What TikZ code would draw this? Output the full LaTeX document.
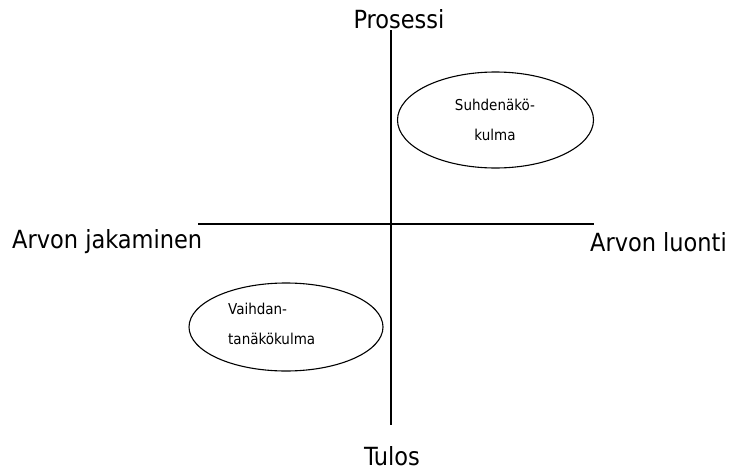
\documentclass[tikz,border=0pt]{standalone}
\usepackage{fontspec}
\setmainfont{DejaVu Sans Condensed}
\begin{document}
\begin{tikzpicture}[x=1pt,y=-1pt,
  axis/.style={line width=1.2pt},
  lbl/.style={inner sep=0pt,font=\fontsize{25}{28}\selectfont},
  small/.style={inner sep=0pt,font=\fontsize{15}{18}\selectfont,align=left}]
\useasboundingbox (0,0) rectangle (731,471);
\coordinate (vt) at (391,30);
\coordinate (vb) at (391,425);
\coordinate (hl) at (198,224);
\coordinate (hr) at (594,224);
\draw[axis] (vt) -- (vb);
\draw[axis] (hl) -- (hr);
\node[lbl] (p) at (399,19) {Prosessi};
\node[lbl] (t) at (392,456) {Tulos};
\node[lbl,anchor=west] (aj) at (12,242) {Arvon jakaminen};
\node[lbl,anchor=east] (al) at (727,242) {Arvon luonti};
\draw[line width=1.1pt] (495.5,120) ellipse (98 and 48);
\node[small,align=center] (s) at (495,120) {Suhdenäkö-\\[12pt]kulma};
\draw[line width=1.1pt] (286,327) ellipse (97 and 44);
\node[small,anchor=west] (v) at (228,324) {Vaihdan-\\[12pt]tanäkökulma};
\end{tikzpicture}
\end{document}
